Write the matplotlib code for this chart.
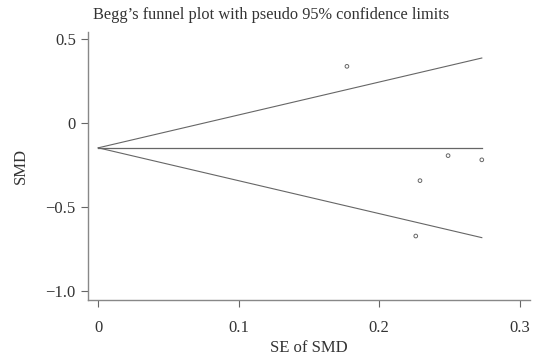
import numpy as np
import matplotlib
matplotlib.use("Agg")
import matplotlib.pyplot as plt

plt.rcParams["font.family"] = ["Liberation Serif", "DejaVu Serif"]
plt.rcParams["axes.unicode_minus"] = True

# study estimates
se = [0.177, 0.249, 0.273, 0.229, 0.226]
smd = [0.338, -0.194, -0.219, -0.343, -0.673]
pooled = -0.1475
se_max = 0.273

grey = "#666666"
txt = "#333333"

fig = plt.figure(figsize=(5.36, 3.59), dpi=100)
ax = fig.add_axes([0.1647, 0.163, 0.8233, 0.749])

# pseudo 95% limits
xs = np.array([0, se_max])
ax.plot(xs, pooled + 1.96 * xs, color=grey, lw=0.8)
ax.plot(xs, pooled - 1.96 * xs, color=grey, lw=0.8)
ax.plot(xs, [pooled, pooled], color=grey, lw=0.9)

ax.scatter(se, smd, s=7, facecolors="none", edgecolors=grey, linewidths=0.7)

ax.set_xlim(-0.0071, 0.307)
ax.set_ylim(-1.057, 0.545)
ax.set_xticks([0, 0.1, 0.2, 0.3])
ax.set_xticklabels(["0", "0.1", "0.2", "0.3"])
ax.set_yticks([0.5, 0, -0.5, -1.0])
ax.set_yticklabels(["0.5", "0", "\u22120.5", "\u22121.0"])

for s in ["top", "right"]:
    ax.spines[s].set_visible(False)
for s in ["left", "bottom"]:
    ax.spines[s].set_color("#888888")
    ax.spines[s].set_linewidth(1.0)
ax.tick_params(direction="out", length=5, width=0.8, color=grey,
               labelsize=12, labelcolor=txt)
ax.tick_params(axis="x", pad=9)
ax.tick_params(axis="y", pad=4)

ax.set_xlabel("SE of SMD", fontsize=12, color=txt, labelpad=3)
ax.set_ylabel("SMD", fontsize=12, color=txt, labelpad=12)

fig.text(93 / 536, 1 - 15 / 359, "Begg\u2019s funnel plot with pseudo 95% confidence limits",
         fontsize=11.8, color=txt, ha="left", va="center")

fig.savefig("out.png", dpi=100)
